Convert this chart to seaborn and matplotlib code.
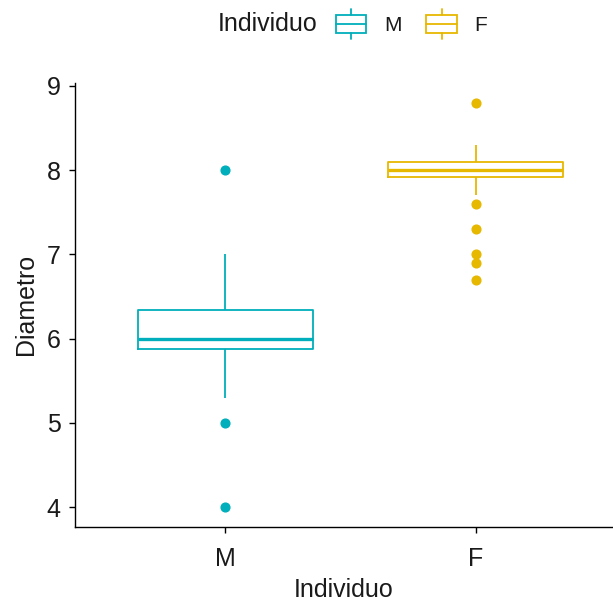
import numpy as np
import pandas as pd
import seaborn as sns
import matplotlib
matplotlib.use("Agg")
import matplotlib.pyplot as plt
from matplotlib.legend_handler import HandlerBase
from matplotlib.patches import Rectangle, Patch
from matplotlib.lines import Line2D

# Data
categories = ["M", "F"]
diametro_M = [4.0, 5.0, 5.3, 5.5, 5.7, 5.88, 5.9, 5.95, 6.0, 6.0, 6.0,
              6.0, 6.1, 6.2, 6.3, 6.34, 6.5, 6.7, 6.9, 7.0, 8.0]
diametro_F = [6.7, 6.9, 7.0, 7.3, 7.6, 7.71, 7.92, 7.95, 7.97, 8.0, 8.0, 8.0,
              8.0, 8.0, 8.05, 8.05, 8.1, 8.1, 8.1, 8.15, 8.2, 8.2, 8.25, 8.3, 8.8]
colors = {"M": "#00AFBB", "F": "#E7B800"}
yticks = [4, 5, 6, 7, 8, 9]

df = pd.DataFrame({
    "Individuo": ["M"] * len(diametro_M) + ["F"] * len(diametro_F),
    "Diametro": diametro_M + diametro_F,
})

sns.set_style("white")
plt.rcParams["font.family"] = ["Liberation Sans", "DejaVu Sans"]

fig = plt.figure(figsize=(6.13, 6.02), dpi=100)
ax = fig.add_axes([75 / 613, 75 / 602, 1 - 75 / 613, 444.4 / 602])

sns.boxplot(data=df, x="Individuo", y="Diametro", hue="Individuo",
            order=categories, hue_order=categories, palette=colors,
            fill=False, width=0.7, linewidth=1.3, dodge=False, legend=False,
            showcaps=False, fliersize=6.3,
            medianprops={"linewidth": 2.4},
            flierprops={"marker": "o"}, ax=ax)

for ln in ax.lines:
    if ln.get_marker() not in (None, "None", "", " "):
        c = ln.get_markeredgecolor()
        ln.set_markerfacecolor(c)
        ln.set_markeredgecolor(c)

ax.set_xlim(-0.6, (613 - 225) / 250.5)
ax.set_ylim(3.7625, 9.04)
ax.set_yticks(yticks)
ax.set_yticklabels([str(t) for t in yticks])

for s in ["top", "right"]:
    ax.spines[s].set_visible(False)
for s in ["left", "bottom"]:
    ax.spines[s].set_color("black")
    ax.spines[s].set_linewidth(1.0)

ax.tick_params(axis="both", which="both", length=4.5, width=1.0, color="black",
               labelsize=18, labelcolor="#1a1a1a", pad=6, direction="out",
               left=True, bottom=True)
ax.tick_params(axis="x", pad=10)
ax.set_xlabel("Individuo", fontsize=18, color="#1a1a1a", labelpad=5)
ax.set_ylabel("Diametro", fontsize=18, color="#1a1a1a", labelpad=6)


class BoxHandler(HandlerBase):
    def create_artists(self, legend, orig_handle, xdescent, ydescent,
                       width, height, fontsize, trans):
        c = orig_handle.get_edgecolor()
        x0, y0 = -xdescent, -ydescent
        ext = height * 0.3
        rect = Rectangle((x0, y0), width, height, facecolor="white",
                         edgecolor=c, linewidth=1.3, transform=trans)
        med = Line2D([x0, x0 + width], [y0 + height / 2] * 2, color=c,
                     linewidth=1.3, transform=trans)
        w1 = Line2D([x0 + width / 2] * 2, [y0 + height, y0 + height + ext],
                    color=c, linewidth=1.3, transform=trans)
        w2 = Line2D([x0 + width / 2] * 2, [y0 - ext, y0], color=c,
                    linewidth=1.3, transform=trans)
        return [rect, med, w1, w2]


handles = [Patch(facecolor="white", edgecolor=colors[k]) for k in categories]
fig.text(318 / 613, 1 - 24 / 602, "Individuo", ha="right", va="center",
         fontsize=18, color="#1a1a1a")
leg = fig.legend(handles, categories, handler_map={Patch: BoxHandler()},
                 loc="center left", bbox_to_anchor=(336 / 613, 1 - 25 / 602),
                 ncol=2, frameon=False, fontsize=15, handlelength=1.45,
                 handleheight=1.0, handletextpad=0.85, columnspacing=1.2,
                 borderpad=0, borderaxespad=0)
for t in leg.get_texts():
    t.set_color("#1a1a1a")

fig.savefig("out.png", dpi=100)
